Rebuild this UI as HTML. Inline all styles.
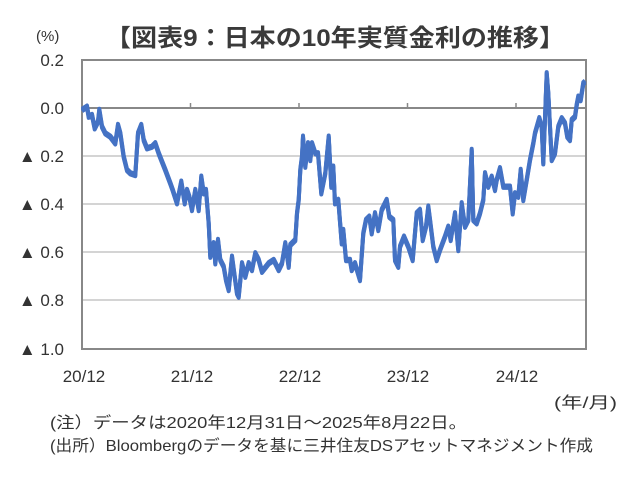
<!DOCTYPE html>
<html><head><meta charset="utf-8"><style>
body{margin:0;background:#fff;}
svg{display:block;}
text{font-family:"Liberation Sans","Noto Sans CJK JP",sans-serif;fill:#333;}
</style></head><body>
<svg width="631" height="483" viewBox="0 0 631 483" xmlns="http://www.w3.org/2000/svg">
<text x="105" y="46" font-size="24" font-weight="bold" textLength="460" lengthAdjust="spacingAndGlyphs" style="fill:#3a3a3a">【図表9：日本の10年実質金利の推移】</text>
<text x="36" y="41" font-size="15">(%)</text>
<g stroke="#d4d4d4" stroke-width="2">
<line x1="82" y1="156" x2="586" y2="156"/>
<line x1="82" y1="204" x2="586" y2="204"/>
<line x1="82" y1="252" x2="586" y2="252"/>
<line x1="82" y1="300" x2="586" y2="300"/>
</g>
<line x1="82" y1="108" x2="586" y2="108" stroke="#888" stroke-width="2"/>
<g stroke="#888" stroke-width="1.5">
<line x1="190.5" y1="103" x2="190.5" y2="108"/>
<line x1="299" y1="103" x2="299" y2="108"/>
<line x1="407.5" y1="103" x2="407.5" y2="108"/>
<line x1="516" y1="103" x2="516" y2="108"/>
</g>
<rect x="82" y="60" width="504" height="289" fill="none" stroke="#888" stroke-width="2"/>
<defs>
<polyline id="ln" fill="none" stroke="#4472C4" stroke-width="4" stroke-linejoin="round" points="82,110 87,106.7 88.7,116.7 92,115 94.7,128.3 98,121.7 99.3,110 102,126.7 105.3,133.3 110.3,136.7 115.3,143.3 118,125 120.3,133.3 123.7,156.7 127,170 130.3,173.3 135.3,175 138,133.3 141.3,125 143.7,140 147,148.3 152,146.7 155.3,143.3 158.7,153.3 162,161.7 165.3,170 170.3,183.3 172.7,190 177,203.3 181.3,181.7 184.7,203.3 187,190 189.3,196.7 192,210 195.3,190 198.7,210 201.3,176.7 203.7,193.3 206,190 208.7,223.3 210.3,256.7 213.7,243.3 215.3,263.3 218,240 220.3,260 223.7,266.7 226,280 228.7,290 232,256.7 234.7,276.7 237,293.3 238.7,296.7 242,263.3 245.3,276.7 248.7,263.3 252,270 255.3,253.3 258.7,260 262,271.7 268.7,263.3 273.7,260 278.7,270 282,263.3 285.3,243.3 288.7,266.7 290.3,245 295.3,240 297,213.3 298.7,200 300.3,170 302,156.7 303,136.7 305.3,166.7 308,143.3 310.3,160 312,143.3 315.3,153.3 318,153.3 321.3,193.3 325.3,173.3 328.7,136.7 331.3,186.7 333.3,166.7 335,203.3 338.3,200 341.7,243.3 343.3,230 346,260 350,260 351.7,270 355,263.3 360,280 363.3,233.3 366,220 369.3,216.7 371.7,233.3 375,213.3 378.3,230 381.7,210 386.7,200 389.3,216.7 393.3,220 395,260 398.3,266.7 400,246.7 404,236.7 408.3,246.7 412.7,260 416.7,213.3 420,210 422.7,240 426,226.7 428.3,206.7 430,220 433.3,246.7 436.7,260 440,250 445,236.7 448.3,226.7 450.7,240 455,213.3 458.3,250 461.7,203.3 465,226.7 468.3,220 471.7,150 473.3,220 476.7,223.3 480,213.3 483.3,200 485,173.3 488.3,186.7 491.7,176.7 495,190 496.7,180 500,168.3 503.3,186.7 510,186.7 512.7,213.3 515,193.3 518.3,196.7 520.7,170 523.3,200 526.7,180 530,160 533.3,143.3 535,133.3 539.3,118.3 541.7,126.7 543.3,163.3 546.7,73.3 548.3,93.3 550,126.7 551.7,160 555,153.3 558.3,126.7 561.7,118.3 565,123.3 567.3,136.7 570,140 571.7,120 575,116.7 576.7,105 578.3,96.7 580.7,100 583.3,83.3 585,81.7"/>
</defs>
<use href="#ln" transform="translate(0,-1.2)"/>
<use href="#ln" transform="translate(0,1.2)"/>
<use href="#ln"/>
<g font-size="17" text-anchor="end">
<text x="64" y="66">0.2</text>
<text x="64" y="114">0.0</text>
<text x="64" y="162">▲ 0.2</text>
<text x="64" y="210">▲ 0.4</text>
<text x="64" y="258">▲ 0.6</text>
<text x="64" y="306">▲ 0.8</text>
<text x="64" y="355">▲ 1.0</text>
</g>
<g font-size="17" text-anchor="middle">
<text x="84" y="382">20/12</text>
<text x="192" y="382">21/12</text>
<text x="300" y="382">22/12</text>
<text x="408" y="382">23/12</text>
<text x="517" y="382">24/12</text>
</g>
<text x="554" y="408" font-size="16" textLength="63" lengthAdjust="spacingAndGlyphs">(年/月)</text>
<text x="50" y="428" font-size="16" textLength="417" lengthAdjust="spacingAndGlyphs">(注）データは2020年12月31日～2025年8月22日。</text>
<text x="50" y="451" font-size="16" textLength="543" lengthAdjust="spacingAndGlyphs">(出所）Bloombergのデータを基に三井住友DSアセットマネジメント作成</text>
</svg>
</body></html>
